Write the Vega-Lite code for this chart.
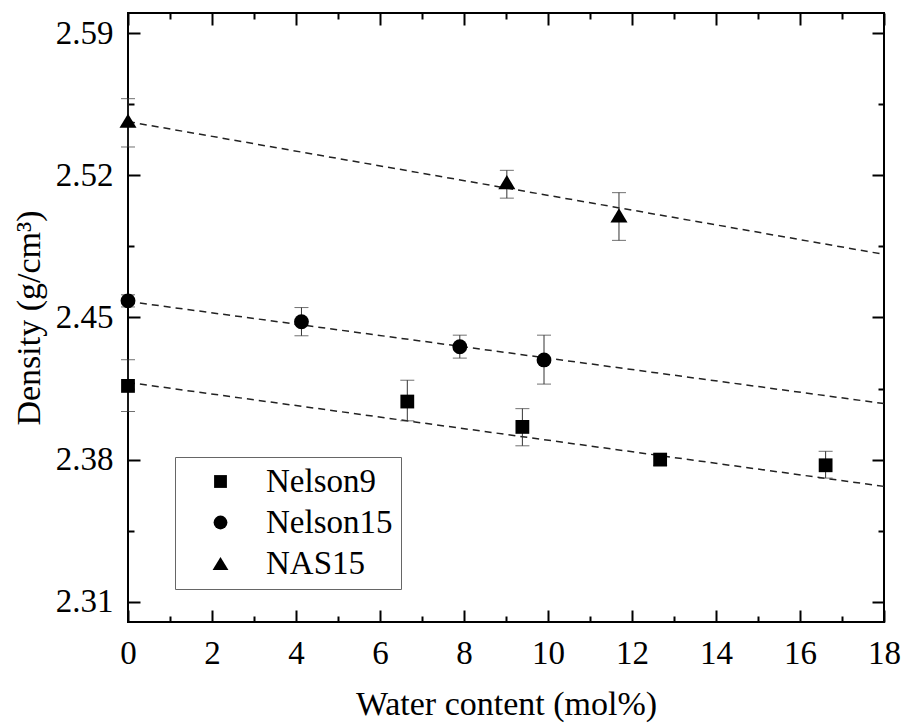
{
  "$schema": "https://vega.github.io/schema/vega-lite/v6.json",
  "width": 756,
  "height": 609,
  "autosize": {"type": "none"},
  "padding": {"left": 128, "top": 13, "right": 23, "bottom": 103},
  "background": "white",
  "config": {
    "view": {"stroke": "black", "strokeWidth": 2},
    "font": "Liberation Serif",
    "axis": {"labelFont": "Liberation Serif", "titleFont": "Liberation Serif"},
    "legend": {"labelFont": "Liberation Serif", "titleFont": "Liberation Serif"}
  },
  "datasets": {
    "fits": [
      {"series": "Nelson9", "x": 0, "y": 2.418},
      {"series": "Nelson9", "x": 18, "y": 2.3668},
      {"series": "Nelson15", "x": 0, "y": 2.4579},
      {"series": "Nelson15", "x": 18, "y": 2.4076},
      {"series": "NAS15", "x": 0, "y": 2.5465},
      {"series": "NAS15", "x": 18, "y": 2.4811}
    ],
    "points": [
      {"series": "Nelson9", "x": 0, "y": 2.4163, "ylo": 2.4037, "yhi": 2.4292},
      {"series": "Nelson9", "x": 6.65, "y": 2.4086, "ylo": 2.3991, "yhi": 2.4191},
      {"series": "Nelson9", "x": 9.39, "y": 2.3961, "ylo": 2.3868, "yhi": 2.4051},
      {"series": "Nelson9", "x": 12.67, "y": 2.38, "ylo": 2.3772, "yhi": 2.3828},
      {"series": "Nelson9", "x": 16.61, "y": 2.3772, "ylo": 2.3709, "yhi": 2.3841},
      {"series": "Nelson15", "x": 0, "y": 2.4582, "ylo": 2.4552, "yhi": 2.4612},
      {"series": "Nelson15", "x": 4.13, "y": 2.4479, "ylo": 2.441, "yhi": 2.4549},
      {"series": "Nelson15", "x": 7.9, "y": 2.4356, "ylo": 2.43, "yhi": 2.4413},
      {"series": "Nelson15", "x": 9.905, "y": 2.4291, "ylo": 2.4172, "yhi": 2.4413},
      {"series": "NAS15", "x": 0, "y": 2.5469, "ylo": 2.534, "yhi": 2.5578},
      {"series": "NAS15", "x": 9.02, "y": 2.5167, "ylo": 2.5088, "yhi": 2.5225},
      {"series": "NAS15", "x": 11.69, "y": 2.5003, "ylo": 2.488, "yhi": 2.5115}
    ]
  },
  "resolve": {"axis": {"x": "independent", "y": "independent"}},
  "layer": [
    {
      "data": {"name": "fits"},
      "mark": {"type": "line", "strokeDash": [7, 5], "strokeWidth": 1.5, "color": "#222"},
      "encoding": {
        "detail": {"field": "series", "type": "nominal"},
        "x": {
          "field": "x", "type": "quantitative",
          "scale": {"domain": [0, 18], "nice": false, "zero": false},
          "axis": {
            "orient": "bottom",
            "values": [0,1,2,3,4,5,6,7,8,9,10,11,12,13,14,15,16,17,18],
            "labelExpr": "datum.value % 2 == 0 ? format(datum.value, 'd') : ''",
            "tickSize": {"condition": {"test": "datum.value % 2 == 0", "value": -12}, "value": -6},
            "tickWidth": 2, "tickColor": "black",
            "domain": false, "grid": false,
            "labelPadding": 27,
            "labelFont": "Liberation Serif", "labelFontSize": 33, "labelColor": "black",
            "labelFlush": false, "labelOverlap": false,
            "title": "Water content (mol%)",
            "titleFont": "Liberation Serif", "titleFontSize": 34, "titleFontWeight": "normal", "titleColor": "black",
            "titlePadding": 11
          }
        },
        "y": {
          "field": "y", "type": "quantitative",
          "scale": {"domain": [2.30, 2.60], "nice": false, "zero": false},
          "axis": {
            "orient": "left",
            "values": [2.31, 2.345, 2.38, 2.415, 2.45, 2.485, 2.52, 2.555, 2.59],
            "labelExpr": "abs(datum.value*100 - round(datum.value*100)) < 0.01 ? format(datum.value, '.2f') : ''",
            "tickSize": {"condition": {"test": "abs(datum.value*100 - round(datum.value*100)) < 0.01", "value": -12}, "value": -6},
            "tickWidth": 2, "tickColor": "black",
            "domain": false, "grid": false,
            "labelPadding": 27,
            "labelFont": "Liberation Serif", "labelFontSize": 33, "labelColor": "black",
            "labelFlush": false, "labelOverlap": false,
            "title": "Density (g/cm³)",
            "titleFont": "Liberation Serif", "titleFontSize": 34, "titleFontWeight": "normal", "titleColor": "black",
            "titlePadding": 9
          }
        }
      }
    },
    {
      "data": {"name": "points"},
      "mark": {"type": "errorbar", "ticks": {"size": 14, "thickness": 1, "color": "#333"}, "rule": {"strokeWidth": 1, "color": "#333"}},
      "encoding": {
        "x": {"field": "x", "type": "quantitative", "scale": {"domain": [0, 18], "nice": false, "zero": false}, "axis": null},
        "y": {"field": "ylo", "type": "quantitative", "scale": {"domain": [2.30, 2.60], "nice": false, "zero": false}, "axis": null},
        "y2": {"field": "yhi"}
      }
    },
    {
      "data": {"name": "points"},
      "mark": {"type": "point", "filled": true, "opacity": 1, "color": "black", "size": 220},
      "encoding": {
        "x": {
          "field": "x", "type": "quantitative",
          "scale": {"domain": [0, 18], "nice": false, "zero": false},
          "axis": {
            "orient": "top",
            "values": [0,1,2,3,4,5,6,7,8,9,10,11,12,13,14,15,16,17,18],
            "labels": false,
            "tickSize": {"condition": {"test": "datum.value % 2 == 0", "value": -12}, "value": -6},
            "tickWidth": 2, "tickColor": "black",
            "domain": false, "grid": false, "title": null
          }
        },
        "y": {
          "field": "y", "type": "quantitative",
          "scale": {"domain": [2.30, 2.60], "nice": false, "zero": false},
          "axis": {
            "orient": "right",
            "values": [2.31, 2.345, 2.38, 2.415, 2.45, 2.485, 2.52, 2.555, 2.59],
            "labels": false,
            "tickSize": {"condition": {"test": "abs(datum.value*100 - round(datum.value*100)) < 0.01", "value": -12}, "value": -6},
            "tickWidth": 2, "tickColor": "black",
            "domain": false, "grid": false, "title": null
          }
        },
        "shape": {
          "field": "series", "type": "nominal",
          "scale": {"domain": ["Nelson9", "Nelson15", "NAS15"], "range": ["M-0.93,-0.93H0.93V0.93H-0.93Z", "circle", "M0,-0.95L1.15,0.95L-1.15,0.95Z"]},
          "legend": {
            "orient": "none", "legendX": 47, "legendY": 444,
            "title": null,
            "strokeColor": "#666",
            "padding": 8,
            "symbolSize": 190, "symbolFillColor": "black", "symbolStrokeColor": "black",
            "symbolOffset": 21,
            "labelOffset": 29,
            "labelFont": "Liberation Serif", "labelFontSize": 33, "labelColor": "black",
            "rowPadding": 7
          }
        }
      }
    }
  ]
}
